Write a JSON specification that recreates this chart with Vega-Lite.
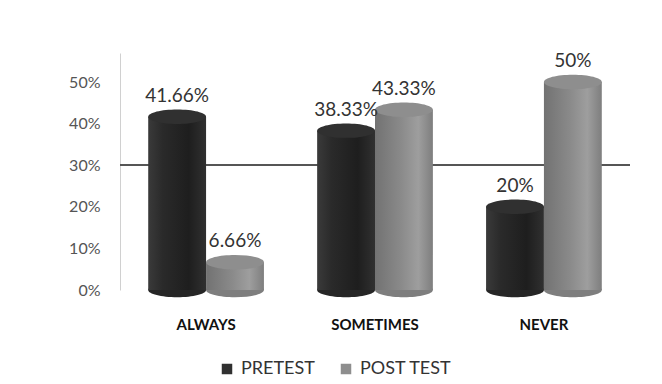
{
  "$schema": "https://vega.github.io/schema/vega-lite/v6.json",
  "width": 510,
  "height": 237,
  "autosize": {"type": "none"},
  "padding": {"left": 120, "top": 53, "right": 32, "bottom": 94},
  "background": "white",
  "config": {
    "view": {"stroke": null},
    "font": "Lato",
    "axis": {"grid": false, "ticks": false}
  },
  "data": {
    "values": [
      {"cat": "ALWAYS", "series": "PRETEST", "value": 0.4166},
      {"cat": "ALWAYS", "series": "POST TEST", "value": 0.0666},
      {"cat": "SOMETIMES", "series": "PRETEST", "value": 0.3833},
      {"cat": "SOMETIMES", "series": "POST TEST", "value": 0.4333},
      {"cat": "NEVER", "series": "PRETEST", "value": 0.2},
      {"cat": "NEVER", "series": "POST TEST", "value": 0.5}
    ]
  },
  "encoding": {
    "x": {
      "field": "cat",
      "type": "nominal",
      "sort": ["ALWAYS", "SOMETIMES", "NEVER"],
      "scale": {"paddingInner": 0.315, "paddingOuter": 0.167},
      "axis": {
        "title": null,
        "labelAngle": 0,
        "labelFontSize": 15,
        "labelFontWeight": "bold",
        "labelColor": "#111111",
        "labelPadding": 27,
        "domain": false
      }
    },
    "xOffset": {
      "field": "series",
      "type": "nominal",
      "sort": ["PRETEST", "POST TEST"],
      "scale": {"paddingInner": 0, "paddingOuter": 0}
    },
    "y": {
      "field": "value",
      "type": "quantitative",
      "scale": {"domain": [0, 0.57], "nice": false},
      "axis": {
        "title": null,
        "format": ".0%",
        "values": [0, 0.1, 0.2, 0.3, 0.4, 0.5],
        "labelFontSize": 16,
        "labelColor": "#555555",
        "labelPadding": 20,
        "domainColor": "#d0d0d0"
      }
    }
  },
  "layer": [
    {
      "mark": {"type": "rule", "color": "#555555", "strokeWidth": 1.5},
      "encoding": {"x": null, "xOffset": null, "y": {"datum": 0.3, "type": "quantitative"}}
    },
    {
      "transform": [{"filter": "datum.series === 'PRETEST'"}],
      "mark": {
        "type": "point",
        "filled": true,
        "opacity": 1,
        "size": 3350,
        "shape": "M -1 0 A 1 0.25 0 1 0 1 0 A 1 0.25 0 1 0 -1 0 Z",
        "color": "#262626"
      },
      "encoding": {"y": {"datum": 0, "type": "quantitative"}}
    },
    {
      "transform": [{"filter": "datum.series === 'POST TEST'"}],
      "mark": {
        "type": "point",
        "filled": true,
        "opacity": 1,
        "size": 3350,
        "shape": "M -1 0 A 1 0.25 0 1 0 1 0 A 1 0.25 0 1 0 -1 0 Z",
        "color": "#7e7e7e"
      },
      "encoding": {"y": {"datum": 0, "type": "quantitative"}}
    },
    {
      "transform": [{"filter": "datum.series === 'PRETEST'"}],
      "mark": {
        "type": "bar",
        "color": {
          "gradient": "linear",
          "x1": 0, "x2": 1, "y1": 0, "y2": 0,
          "stops": [
            {"offset": 0, "color": "#3a3a3a"},
            {"offset": 0.25, "color": "#2a2a2a"},
            {"offset": 0.7, "color": "#1e1e1e"},
            {"offset": 1, "color": "#303030"}
          ]
        }
      }
    },
    {
      "transform": [{"filter": "datum.series === 'POST TEST'"}],
      "mark": {
        "type": "bar",
        "color": {
          "gradient": "linear",
          "x1": 0, "x2": 1, "y1": 0, "y2": 0,
          "stops": [
            {"offset": 0, "color": "#727272"},
            {"offset": 0.45, "color": "#8a8a8a"},
            {"offset": 0.75, "color": "#9e9e9e"},
            {"offset": 1, "color": "#7e7e7e"}
          ]
        }
      }
    },
    {
      "mark": {
        "type": "point",
        "filled": true,
        "opacity": 1,
        "size": 3350,
        "shape": "M -1 0 A 1 0.25 0 1 0 1 0 A 1 0.25 0 1 0 -1 0 Z",
        "strokeWidth": 1
      },
      "encoding": {
        "color": {
          "field": "series",
          "type": "nominal",
          "sort": ["PRETEST", "POST TEST"],
          "scale": {"range": ["#303030", "#8e8e8e"]},
          "legend": {
            "title": null,
            "orient": "none",
            "direction": "horizontal",
            "legendX": 98,
            "legendY": 307,
            "symbolType": "square",
            "symbolSize": 110,
            "symbolStrokeWidth": 0,
            "labelFontSize": 18,
            "labelColor": "#333333",
            "columnPadding": 22,
            "labelOffset": 5
          }
        }
      }
    },
    {
      "mark": {
        "type": "text",
        "baseline": "bottom",
        "dy": -11,
        "fontSize": 19,
        "color": "#333333"
      },
      "encoding": {
        "text": {"field": "value", "type": "quantitative", "format": ".2~%"}
      }
    }
  ]
}
